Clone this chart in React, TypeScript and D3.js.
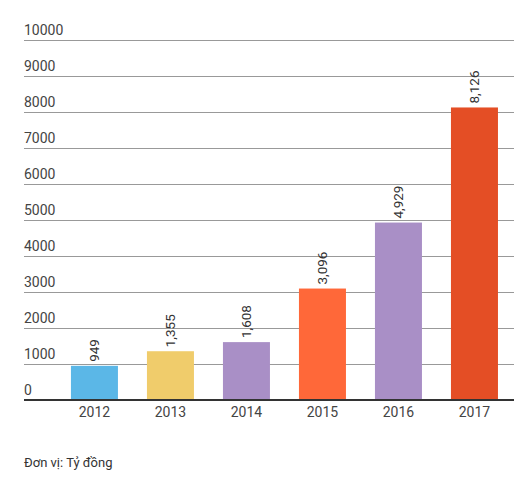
import * as d3 from "d3";

const years = ["2012", "2013", "2014", "2015", "2016", "2017"];
const values = [949, 1355, 1608, 3096, 4929, 8126];
const barColors = ["#5bb7e7", "#f0cc6b", "#a98fc6", "#ff6839", "#a98fc6", "#e44e25"];
const yTicks = [0, 1000, 2000, 3000, 4000, 5000, 6000, 7000, 8000, 9000, 10000];
const unitNote = "Đơn vị: Tỷ đồng";

const width = 524;
const height = 482;
const font = "Roboto, 'Noto Sans', sans-serif";

const App = () => {
  const x = d3
    .scaleBand<string>()
    .domain(years)
    .range([56.5, 512.4])
    .paddingInner(0.3816)
    .paddingOuter(0.19);

  const y = d3.scaleLinear().domain([0, 10000]).range([400, 40]);
  const fmt = d3.format(",");

  return (
    <svg
      width={width}
      height={height}
      style={{ position: "absolute", left: 0, top: 0 }}
      fontFamily={font}
    >
      <rect width={width} height={height} fill="#fff" />
      {/* grid + tick labels */}
      {yTicks.map((t) => (
        <g key={t}>
          {t > 0 && (
            <line x1={24} x2={514} y1={y(t) + 0.5} y2={y(t) + 0.5} stroke="#999" strokeWidth={1} />
          )}
          <text x={24} y={y(t) - 5} fontSize={14} fill="#444">
            {t}
          </text>
        </g>
      ))}
      {/* bars */}
      {years.map((yr, i) => (
        <rect
          key={yr}
          x={x(yr)}
          y={y(values[i])}
          width={x.bandwidth()}
          height={y(0) - y(values[i])}
          fill={barColors[i]}
        />
      ))}
      {/* value labels */}
      {years.map((yr, i) => {
        const cx = (x(yr) ?? 0) + x.bandwidth() / 2;
        const ty = y(values[i]) - 4;
        return (
          <text
            key={yr}
            transform={`translate(${cx + 4.8},${ty}) rotate(-90)`}
            fontSize={13.5}
            fill="#333"
          >
            {fmt(values[i])}
          </text>
        );
      })}
      {/* baseline */}
      <line x1={24} x2={514} y1={y(0)} y2={y(0)} stroke="#333" strokeWidth={2} />
      {/* x labels */}
      {years.map((yr) => (
        <text
          key={yr}
          x={(x(yr) ?? 0) + x.bandwidth() / 2}
          y={416.5}
          fontSize={14}
          fill="#444"
          textAnchor="middle"
        >
          {yr}
        </text>
      ))}
      <text x={24} y={467} fontSize={13} fill="#333">
        {unitNote}
      </text>
    </svg>
  );
};

export default App;
